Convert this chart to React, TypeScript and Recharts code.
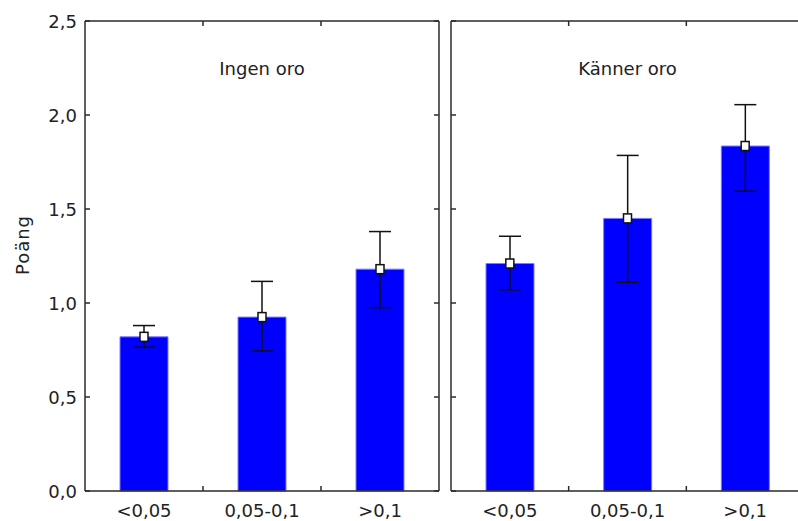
import { Bar, ComposedChart, ErrorBar, Line, ReferenceLine, XAxis, YAxis } from "recharts";

// Mean score per p-value group, with the interval ends.
const categories = ["<0,05", "0,05-0,1", ">0,1"];
const ingenMean = [0.82, 0.925, 1.18];
const ingenLow = [0.765, 0.745, 0.975];
const ingenHigh = [0.88, 1.115, 1.38];
const kannerMean = [1.21, 1.45, 1.835];
const kannerLow = [1.07, 1.11, 1.595];
const kannerHigh = [1.355, 1.785, 2.055];
const yTicks = [0, 0.5, 1, 1.5, 2, 2.5];

const AXIS = "#2a2a2a";
const FONT = "'DejaVu Sans', Verdana, sans-serif";
const FS = 18;

interface Row {
  cat: string;
  mean: number;
  err: [number, number];
}

function buildRows(mean: number[], low: number[], high: number[]): Row[] {
  return categories.map((cat, i) => ({
    cat,
    mean: mean[i],
    err: [mean[i] - low[i], high[i] - mean[i]],
  }));
}

const fmt = (v: number) => v.toFixed(1).replace(".", ",");

function LeftTick(props: any) {
  const { x, y, payload, showLabel } = props;
  return (
    <g>
      <line x1={x} x2={x + 5} y1={y} y2={y} stroke={AXIS} strokeWidth={1.5} />
      {showLabel && (
        <text x={x - 8} y={y} dy={6.5} textAnchor="end" fontFamily={FONT} fontSize={FS} fill="#222">
          {fmt(payload.value)}
        </text>
      )}
    </g>
  );
}

function RightTick(props: any) {
  const { x, y } = props;
  return <line x1={x - 5} x2={x} y1={y} y2={y} stroke={AXIS} strokeWidth={1.5} />;
}

function BottomTick(props: any) {
  const { x, y, payload, index } = props;
  const off = payload.offset ?? 59;
  return (
    <g>
      {index > 0 && (
        <line x1={x - off} x2={x - off} y1={y} y2={y - 5} stroke={AXIS} strokeWidth={1.5} />
      )}
      <text x={x} y={y + 26} textAnchor="middle" fontFamily={FONT} fontSize={FS} fill="#222">
        {payload.value}
      </text>
    </g>
  );
}

function TopTick(props: any) {
  const { x, y, payload, index } = props;
  const off = payload.offset ?? 59;
  if (index === 0) return <g />;
  return <line x1={x - off} x2={x - off} y1={y} y2={y + 5} stroke={AXIS} strokeWidth={1.5} />;
}

function Marker(props: any) {
  const { cx, cy } = props;
  if (cx == null || cy == null) return <g />;
  return (
    <rect x={cx - 4} y={cy - 4.5} width={8} height={9} fill="#fff" stroke="#111" strokeWidth={1.5} />
  );
}

function YTitle(props: any) {
  const { viewBox } = props;
  const cx = viewBox.x + 22;
  const cy = viewBox.y + viewBox.height / 2 - 11;
  return (
    <text
      x={cx}
      y={cy}
      transform={`rotate(-90 ${cx} ${cy})`}
      textAnchor="middle"
      dominantBaseline="central"
      fontFamily={FONT}
      fontSize={FS}
      letterSpacing={1}
      fill="#222"
    >
      Poäng
    </text>
  );
}

interface PanelProps {
  rows: Row[];
  title: string;
  first: boolean;
}

function Panel({ rows, title, first }: PanelProps) {
  return (
    <ComposedChart
      width={first ? 445 : 370}
      height={521}
      data={rows}
      margin={{ top: 20, right: 5, bottom: 0, left: first ? 0 : 10 }}
    >
      <XAxis
        dataKey="cat"
        height={30}
        tickLine={false}
        tickSize={0}
        tickMargin={0}
        interval={0}
        axisLine={{ stroke: AXIS, strokeWidth: 1.5 }}
        tick={(p: any) => <BottomTick {...p} />}
      />
      <XAxis
        xAxisId="top"
        orientation="top"
        dataKey="cat"
        height={1}
        tickLine={false}
        tickSize={0}
        tickMargin={0}
        interval={0}
        axisLine={{ stroke: AXIS, strokeWidth: 1.5 }}
        tick={(p: any) => <TopTick {...p} />}
      />
      <YAxis
        type="number"
        domain={[0, 2.5]}
        ticks={yTicks}
        width={first ? 85 : 1}
        tickLine={false}
        tickSize={0}
        tickMargin={0}
        axisLine={{ stroke: AXIS, strokeWidth: 1.5 }}
        tick={(p: any) => <LeftTick {...p} showLabel={first} />}
        label={first ? { content: (p: any) => <YTitle {...p} /> } : undefined}
      />
      <YAxis
        yAxisId="right"
        orientation="right"
        type="number"
        domain={[0, 2.5]}
        ticks={yTicks}
        width={1}
        tickLine={false}
        tickSize={0}
        tickMargin={0}
        axisLine={{ stroke: AXIS, strokeWidth: 1.5 }}
        tick={(p: any) => <RightTick {...p} />}
      />
      <ReferenceLine
        y={2.245}
        stroke="none"
        label={{ value: title, position: "center", fontFamily: FONT, fontSize: FS, fill: "#222" }}
      />
      <Bar dataKey="mean" barSize={48} fill="#0000ff" stroke="#7a7aff" strokeWidth={1} isAnimationActive={false}>
        <ErrorBar dataKey="err" width={11} stroke="#111" strokeWidth={1.5} direction="y" />
      </Bar>
      <Line
        xAxisId="top"
        yAxisId="right"
        dataKey="mean"
        stroke="none"
        dot={(p: any) => <Marker key={p.index} {...p} />}
        activeDot={false}
        isAnimationActive={false}
      />
    </ComposedChart>
  );
}

export default function App() {
  const ingen = buildRows(ingenMean, ingenLow, ingenHigh);
  const kanner = buildRows(kannerMean, kannerLow, kannerHigh);
  return (
    <div
      style={{
        position: "absolute",
        left: 0,
        top: 0,
        width: 798,
        height: 521,
        overflow: "hidden",
        background: "#fff",
      }}
    >
      <div style={{ position: "absolute", left: 0, top: 0 }}>
        <Panel rows={ingen} title="Ingen oro" first />
      </div>
      <div style={{ position: "absolute", left: 440, top: 0 }}>
        <Panel rows={kanner} title="Känner oro" first={false} />
      </div>
    </div>
  );
}
